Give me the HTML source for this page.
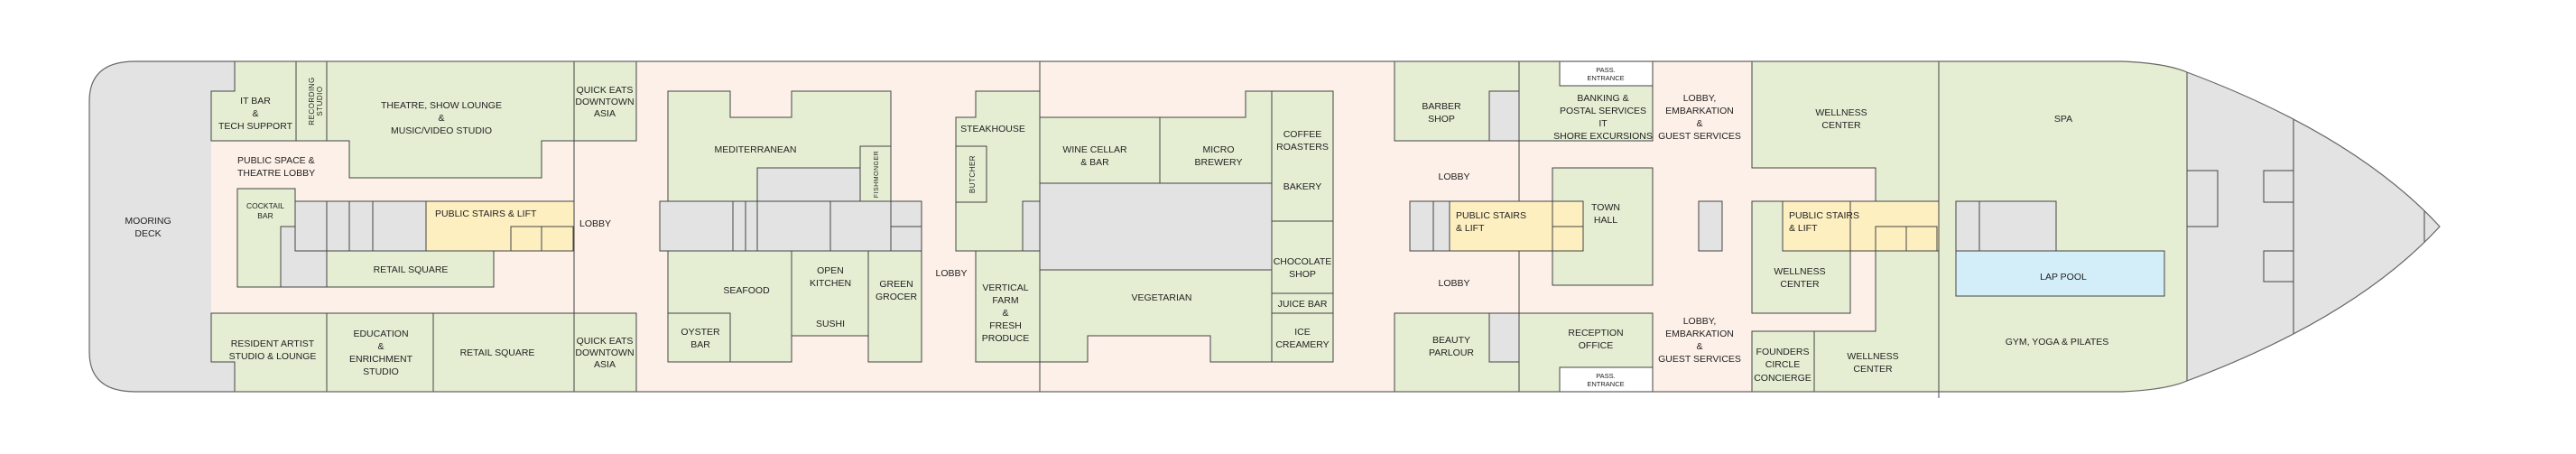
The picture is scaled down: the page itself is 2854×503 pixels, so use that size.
<!DOCTYPE html>
<html><head><meta charset="utf-8"><style>
html,body{margin:0;padding:0;background:#fff;}
svg{display:block;}
text{font-family:"Liberation Sans Narrow","Liberation Sans",sans-serif;font-size:10.5px;fill:#222;text-anchor:middle;}
.s{font-size:7.5px;}
.l{text-anchor:start;}
.v{font-family:"Liberation Sans",sans-serif;font-size:8px;letter-spacing:0.5px;}
</style></head><body>
<svg width="2854" height="503" viewBox="0 0 2854 503" xmlns="http://www.w3.org/2000/svg">
<defs>
<clipPath id="ship"><path d="M150 68 L2351 68 Q2400 70 2423 80 Q2610 150 2703 251 Q2610 352 2423 422 Q2400 432 2351 434 L150 434 Q99 434 99 390 L99 112 Q99 68 150 68 Z"/></clipPath>
</defs>
<g clip-path="url(#ship)" stroke="#444" stroke-width="1">
<rect x="90" y="60" width="2630" height="380" fill="#fdf0e8" stroke="none"/>
<rect x="90" y="60" width="144" height="380" fill="#e3e3e3" stroke="none"/>
<rect x="90" y="60" width="170" height="41" fill="#e3e3e3" stroke="none"/>
<rect x="90" y="401" width="170" height="40" fill="#e3e3e3" stroke="none"/>
<rect x="2423" y="60" width="300" height="380" fill="#e3e3e3"/>
<line x1="2541" y1="60" x2="2541" y2="440"/>
<line x1="2686" y1="60" x2="2686" y2="440"/>
<rect x="2148" y="60" width="275" height="380" fill="#e5eed3"/>
</g>
<g stroke="#444" stroke-width="1">
<rect x="2423" y="189" width="34" height="62" fill="#e3e3e3"/>
<rect x="2508" y="189" width="33" height="35" fill="#e3e3e3"/>
<rect x="2508" y="278" width="33" height="34" fill="#e3e3e3"/>
</g>
<g stroke="#444" stroke-width="1" fill="#e5eed3">
<polygon points="260,68 328,68 328,156 234,156 234,101 260,101"/>
<rect x="328" y="68" width="34" height="88"/>
<polygon points="362,68 636,68 636,156 600,156 600,197 387,197 387,156 362,156"/>
<rect x="636" y="68" width="69" height="88"/>
<line x1="636" y1="68" x2="636" y2="434"/>
<rect x="263" y="209" width="64" height="109"/>
<rect x="311" y="251" width="51" height="67" fill="#e3e3e3"/>
<rect x="327" y="223" width="145" height="55" fill="#e3e3e3"/>
<line x1="362" y1="223" x2="362" y2="278"/><line x1="387" y1="223" x2="387" y2="278"/><line x1="413" y1="223" x2="413" y2="278"/>
<rect x="472" y="223" width="164" height="55" fill="#fdefc0"/>
<rect x="566" y="251" width="34" height="27" fill="#fdefc0"/><rect x="600" y="251" width="35" height="27" fill="#fdefc0"/>
<rect x="362" y="278" width="185" height="40"/>
<polygon points="234,347 362,347 362,434 260,434 260,401 234,401"/>
<rect x="362" y="347" width="118" height="87"/>
<rect x="480" y="347" width="156" height="87"/>
<rect x="636" y="347" width="69" height="87"/>
<polygon points="740,101 809,101 809,130 877,130 877,101 987,101 987,223 740,223"/>
<rect x="839" y="186" width="114" height="37" fill="#e3e3e3"/>
<rect x="953" y="162" width="34" height="61"/>
<rect x="731" y="223" width="290" height="55" fill="#e3e3e3"/>
<line x1="812" y1="223" x2="812" y2="278"/><line x1="826" y1="223" x2="826" y2="278"/><line x1="839" y1="223" x2="839" y2="278"/><line x1="920" y1="223" x2="920" y2="278"/><line x1="987" y1="223" x2="987" y2="278"/><line x1="987" y1="251" x2="1021" y2="251"/>
<rect x="740" y="278" width="137" height="123"/>
<rect x="740" y="347" width="69" height="54"/>
<rect x="877" y="278" width="85" height="94"/>
<rect x="962" y="278" width="59" height="123"/>
<polygon points="1081,101 1152,101 1152,278 1059,278 1059,130 1081,130"/>
<rect x="1059" y="162" width="34" height="62"/>
<rect x="1133" y="223" width="19" height="55" fill="#e3e3e3"/>
<rect x="1081" y="278" width="71" height="123"/>
<line x1="1152" y1="68" x2="1152" y2="434"/>
<rect x="1152" y="130" width="133" height="73"/>
<polygon points="1285,130 1380,130 1380,101 1409,101 1409,203 1285,203"/>
<rect x="1409" y="101" width="68" height="144"/>
<rect x="1152" y="203" width="257" height="96" fill="#e3e3e3"/>
<polygon points="1152,299 1409,299 1409,401 1341,401 1341,372 1205,372 1205,401 1152,401"/>
<rect x="1409" y="245" width="68" height="80"/>
<rect x="1409" y="325" width="68" height="22"/>
<rect x="1409" y="347" width="68" height="54"/>
<rect x="1545" y="68" width="138" height="88"/>
<rect x="1650" y="101" width="33" height="55" fill="#e3e3e3"/>
<line x1="1683" y1="68" x2="1683" y2="434"/>
<rect x="1683" y="68" width="148" height="88"/>
<rect x="1728" y="68" width="103" height="27" fill="#fff"/>
<rect x="1720" y="186" width="111" height="130"/>
<rect x="1562" y="223" width="44" height="55" fill="#e3e3e3"/>
<line x1="1588" y1="223" x2="1588" y2="278"/>
<rect x="1606" y="223" width="148" height="55" fill="#fdefc0"/>
<line x1="1720" y1="223" x2="1720" y2="278"/><line x1="1720" y1="251" x2="1754" y2="251"/>
<rect x="1545" y="347" width="138" height="87"/>
<rect x="1650" y="347" width="33" height="54" fill="#e3e3e3"/>
<rect x="1683" y="347" width="148" height="87"/>
<rect x="1728" y="407" width="103" height="27" fill="#fff"/>
<rect x="1882" y="223" width="26" height="55" fill="#e3e3e3"/>
<polygon points="1941,68 2148,68 2148,434 2010,434 2010,367 2078,367 2078,223 2078,186 1941,186"/>
<rect x="1941" y="223" width="109" height="124"/>
<rect x="1941" y="367" width="69" height="67"/>
<rect x="1975" y="223" width="173" height="55" fill="#fdefc0"/>
<line x1="2050" y1="223" x2="2050" y2="278"/>
<rect x="2078" y="251" width="34" height="27" fill="#fdefc0"/><rect x="2112" y="251" width="34" height="27" fill="#fdefc0"/>
<line x1="2148" y1="68" x2="2148" y2="441"/>
<rect x="2167" y="223" width="111" height="55" fill="#e3e3e3"/>
<line x1="2193" y1="223" x2="2193" y2="278"/>
<rect x="2167" y="278" width="231" height="50" fill="#d4eef9"/>
</g>
<path d="M150 68 L2351 68 Q2400 70 2423 80 Q2610 150 2703 251 Q2610 352 2423 422 Q2400 432 2351 434 L150 434 Q99 434 99 390 L99 112 Q99 68 150 68 Z" fill="none" stroke="#666" stroke-width="1.2"/>
<line x1="2423" y1="80" x2="2423" y2="422" stroke="#444"/>
<text x="164" y="248">MOORING</text><text x="164" y="262">DECK</text>
<text x="283" y="115">IT BAR</text><text x="283" y="129">&amp;</text><text x="283" y="143">TECH SUPPORT</text>
<text class="v" transform="translate(348,112) rotate(-90)">RECORDING</text><text class="v" transform="translate(357,112) rotate(-90)">STUDIO</text>
<text x="489" y="120">THEATRE, SHOW LOUNGE</text><text x="489" y="134">&amp;</text><text x="489" y="148">MUSIC/VIDEO STUDIO</text>
<text x="670" y="103">QUICK EATS</text><text x="670" y="116">DOWNTOWN</text><text x="670" y="129">ASIA</text>
<text class="l" x="263" y="181">PUBLIC SPACE &amp;</text><text class="l" x="263" y="195">THEATRE LOBBY</text>
<text x="294" y="231" style="font-size:8.5px">COCKTAIL</text><text x="294" y="242" style="font-size:8.5px">BAR</text>
<text class="l" x="482" y="240">PUBLIC STAIRS &amp; LIFT</text>
<text class="l" x="642" y="251">LOBBY</text>
<text x="455" y="302">RETAIL SQUARE</text>
<text x="302" y="384">RESIDENT ARTIST</text><text x="302" y="398">STUDIO &amp; LOUNGE</text>
<text x="422" y="373">EDUCATION</text><text x="422" y="387">&amp;</text><text x="422" y="401">ENRICHMENT</text><text x="422" y="415">STUDIO</text>
<text x="551" y="394">RETAIL SQUARE</text>
<text x="670" y="381">QUICK EATS</text><text x="670" y="394">DOWNTOWN</text><text x="670" y="407">ASIA</text>
<text x="837" y="169">MEDITERRANEAN</text>
<text class="v" style="font-size:7px" transform="translate(973,193) rotate(-90)">FISHMONGER</text>
<text x="827" y="325">SEAFOOD</text>
<text x="920" y="303">OPEN</text><text x="920" y="317">KITCHEN</text><text x="920" y="362">SUSHI</text>
<text x="993" y="318">GREEN</text><text x="993" y="332">GROCER</text>
<text x="776" y="371">OYSTER</text><text x="776" y="385">BAR</text>
<text x="1100" y="146">STEAKHOUSE</text>
<text class="v" transform="translate(1080,193) rotate(-90)">BUTCHER</text>
<text x="1054" y="306">LOBBY</text>
<text x="1114" y="322">VERTICAL</text><text x="1114" y="336">FARM</text><text x="1114" y="350">&amp;</text><text x="1114" y="364">FRESH</text><text x="1114" y="378">PRODUCE</text>
<text x="1213" y="169">WINE CELLAR</text><text x="1213" y="183">&amp; BAR</text>
<text x="1350" y="169">MICRO</text><text x="1350" y="183">BREWERY</text>
<text x="1443" y="152">COFFEE</text><text x="1443" y="166">ROASTERS</text><text x="1443" y="210">BAKERY</text>
<text x="1443" y="293">CHOCOLATE</text><text x="1443" y="307">SHOP</text>
<text x="1443" y="340">JUICE BAR</text>
<text x="1443" y="371">ICE</text><text x="1443" y="385">CREAMERY</text>
<text x="1287" y="333">VEGETARIAN</text>
<text x="1597" y="121">BARBER</text><text x="1597" y="135">SHOP</text>
<text class="s" x="1779" y="80">PASS.</text><text class="s" x="1779" y="89">ENTRANCE</text>
<text x="1776" y="112">BANKING &amp;</text><text x="1776" y="126">POSTAL SERVICES</text><text x="1776" y="140">IT</text><text x="1776" y="154">SHORE EXCURSIONS</text>
<text x="1883" y="112">LOBBY,</text><text x="1883" y="126">EMBARKATION</text><text x="1883" y="140">&amp;</text><text x="1883" y="154">GUEST SERVICES</text>
<text x="1883" y="359">LOBBY,</text><text x="1883" y="373">EMBARKATION</text><text x="1883" y="387">&amp;</text><text x="1883" y="401">GUEST SERVICES</text>
<text x="1611" y="199">LOBBY</text><text x="1611" y="317">LOBBY</text>
<text class="l" x="1613" y="242">PUBLIC STAIRS</text><text class="l" x="1613" y="256">&amp; LIFT</text>
<text x="1779" y="233">TOWN</text><text x="1779" y="247">HALL</text>
<text x="1608" y="380">BEAUTY</text><text x="1608" y="394">PARLOUR</text>
<text x="1768" y="372">RECEPTION</text><text x="1768" y="386">OFFICE</text>
<text class="s" x="1779" y="419">PASS.</text><text class="s" x="1779" y="428">ENTRANCE</text>
<text x="2040" y="128">WELLNESS</text><text x="2040" y="142">CENTER</text>
<text x="2286" y="135">SPA</text>
<text class="l" x="1982" y="242">PUBLIC STAIRS</text><text class="l" x="1982" y="256">&amp; LIFT</text>
<text x="1994" y="304">WELLNESS</text><text x="1994" y="318">CENTER</text>
<text x="1975" y="393">FOUNDERS</text><text x="1975" y="407">CIRCLE</text><text x="1975" y="422">CONCIERGE</text>
<text x="2075" y="398">WELLNESS</text><text x="2075" y="412">CENTER</text>
<text x="2286" y="310">LAP POOL</text>
<text x="2279" y="382">GYM, YOGA &amp; PILATES</text>
</svg>
</body></html>
